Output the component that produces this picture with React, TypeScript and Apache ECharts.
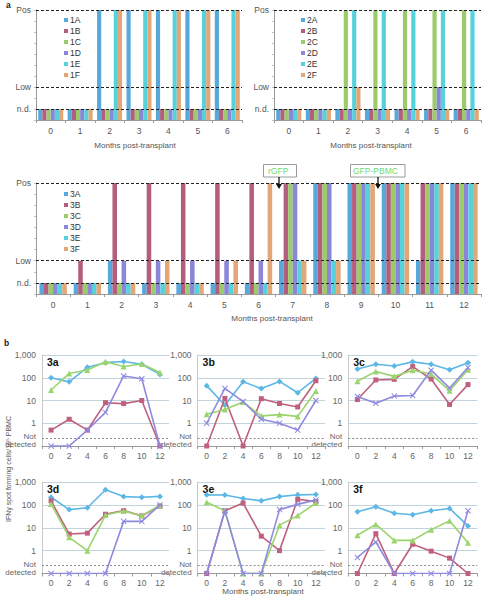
import React, { useEffect, useRef } from 'react';
import * as echarts from 'echarts';

// ---------- DATA ----------
// Bar panels: 1 = n.d., 3 = Low, 10 = Pos
const ND = 1;
const LOW = 3;
const POS = 10;

const monthsShort = ['0', '1', '2', '3', '4', '5', '6'];
const monthsLong = ['0', '1', '2', '3', '4', '5', '6', '7', '8', '9', '10', '11', '12'];

const names1 = ['1A', '1B', '1C', '1D', '1E', '1F'];
const p1A = [ND, ND, POS, POS, POS, POS, POS];
const p1B = [ND, ND, ND, ND, ND, ND, ND];
const p1C = [ND, ND, ND, ND, ND, ND, ND];
const p1D = [ND, ND, ND, ND, ND, ND, ND];
const p1E = [ND, ND, POS, POS, POS, POS, POS];
const p1F = [ND, ND, POS, POS, POS, POS, POS];

const names2 = ['2A', '2B', '2C', '2D', '2E', '2F'];
const p2A = [ND, ND, ND, ND, ND, ND, ND];
const p2B = [ND, ND, ND, ND, ND, ND, ND];
const p2C = [ND, ND, POS, POS, POS, POS, POS];
const p2D = [ND, ND, ND, ND, ND, LOW, ND];
const p2E = [ND, ND, POS, POS, POS, POS, POS];
const p2F = [ND, ND, LOW, ND, ND, ND, ND];

const names3 = ['3A', '3B', '3C', '3D', '3E', '3F'];
const p3A = [ND, ND, LOW, ND, ND, ND, ND, LOW, POS, POS, POS, LOW, POS];
const p3B = [ND, LOW, POS, POS, POS, POS, POS, POS, POS, POS, POS, POS, POS];
const p3C = [ND, ND, ND, ND, ND, ND, ND, POS, POS, POS, POS, POS, POS];
const p3D = [ND, ND, LOW, LOW, LOW, LOW, LOW, POS, POS, POS, POS, POS, POS];
const p3E = [ND, ND, ND, ND, ND, ND, ND, LOW, LOW, POS, POS, POS, POS];
const p3F = [ND, ND, ND, LOW, ND, LOW, POS, LOW, LOW, POS, POS, POS, POS];

const levelLabels: Record<number, string> = { 1: 'n.d.', 3: 'Low', 10: 'Pos' };

// Line panels: IFN-gamma spot forming cells / 10^5 PBMC ; 0.1 = not detected
const NDL = 0.1;
const NOT_DETECTED_LINE = 0.22;
const lineMonths = ['0', '2', '4', '6', '8', '10', '12'];
const panelNames = ['3a', '3b', '3c', '3d', '3e', '3f'];

const l3aBlue = [100, 66, 290, 460, 520, 390, 140];
const l3aPink = [0.5, 1.5, 0.5, 8, 7.3, 10, NDL];
const l3aGreen = [29, 155, 220, 500, 310, 400, 170];
const l3aPurple = [NDL, NDL, 0.5, 3, 120, 90, NDL];

const l3bBlue = [45, 6.2, 66, 34, 69, 22, 93];
const l3bPink = [NDL, 12.4, NDL, 12, 7.4, 5.2, 74];
const l3bGreen = [2.5, 4, 8.5, 2.1, 2.4, 2.0, 26];
const l3bPurple = [1, 34, 9, 1.5, 1.0, 0.5, 10];

const l3cBlue = [240, 390, 330, 500, 390, 225, 460];
const l3cPink = [11, 80, 85, 310, 88, 6.7, 50];
const l3cGreen = [70, 190, 115, 215, 145, 27, 225];
const l3cPurple = [15, 7.6, 15.6, 16.5, 215, 35, 280];

const l3dBlue = [215, 62, 75, 460, 230, 215, 235];
const l3dPink = [150, 5.3, 5.8, 39, 56, 33, 88];
const l3dGreen = [110, 3.8, 1.0, 36, 54, 34, 96];
const l3dPurple = [NDL, NDL, NDL, NDL, 19, 19, 100];

const l3eBlue = [275, 270, 190, 150, 230, 275, 285];
const l3ePink = [NDL, 55, 120, 4.3, 1.0, 175, 140];
const l3eGreen = [130, 55, NDL, NDL, 13, 34, 120];
const l3ePurple = [NDL, 55, NDL, NDL, 62, 105, 165];

const l3fBlue = [50, 82, 43, 37, 55, 70, 12];
const l3fPink = [NDL, 5.5, NDL, 1.9, 0.95, 0.47, NDL];
const l3fGreen = [4.7, 14, 2.8, 2.8, 8.2, 20, 2.2];
const l3fPurple = [0.5, 2.4, NDL, NDL, NDL, NDL, 55];

// ---------- STYLE ----------
const FONT = "'Liberation Sans', Arial, Helvetica, sans-serif";
const barColors = ['#57A8DB', '#B45E7D', '#9CCB6C', '#8A86D8', '#56D2DC', '#E2A677'];
const lineColors = ['#5BB7E6', '#C0607F', '#9BD46D', '#8E8AE0'];
const X_SYMBOL = 'path://M0,1.2L1.2,0L5,3.8L8.8,0L10,1.2L6.2,5L10,8.8L8.8,10L5,6.2L1.2,10L0,8.8L3.8,5Z';
const lineSymbols = ['diamond', 'rect', 'triangle', X_SYMBOL];
const lineSymbolSizes = [6, 5, 6, 6];

export default function App() {
  const ref = useRef<HTMLDivElement>(null);

  useEffect(() => {
    if (!ref.current) return;
    const chart = echarts.init(ref.current, undefined, { renderer: 'svg' });

    const barGrids = [
      { left: 36, top: 10, width: 206, height: 110 },
      { left: 274, top: 10, width: 207, height: 110 },
      { left: 36, top: 183, width: 445, height: 111 },
    ];
    const lineGrids = [
      { left: 42, top: 355, width: 127, height: 91 },
      { left: 197.6, top: 355, width: 127.4, height: 91 },
      { left: 348.2, top: 355, width: 129, height: 91 },
      { left: 42, top: 482, width: 127, height: 91.5 },
      { left: 197.6, top: 482, width: 127.4, height: 91.5 },
      { left: 348.2, top: 482, width: 129, height: 91.5 },
    ];

    const barPanels = [
      { names: names1, data: [p1A, p1B, p1C, p1D, p1E, p1F], cats: monthsShort, gap: '15%' },
      { names: names2, data: [p2A, p2B, p2C, p2D, p2E, p2F], cats: monthsShort, gap: '15%' },
      { names: names3, data: [p3A, p3B, p3C, p3D, p3E, p3F], cats: monthsLong, gap: '20%' },
    ];
    const linePanels = [
      [l3aBlue, l3aPink, l3aGreen, l3aPurple],
      [l3bBlue, l3bPink, l3bGreen, l3bPurple],
      [l3cBlue, l3cPink, l3cGreen, l3cPurple],
      [l3dBlue, l3dPink, l3dGreen, l3dPurple],
      [l3eBlue, l3ePink, l3eGreen, l3ePurple],
      [l3fBlue, l3fPink, l3fGreen, l3fPurple],
    ];

    const grid: any[] = [];
    const xAxis: any[] = [];
    const yAxis: any[] = [];
    const series: any[] = [];
    const legend: any[] = [];
    const graphic: any[] = [];

    barPanels.forEach((p, gi) => {
      grid.push({ ...barGrids[gi], containLabel: false });
      xAxis.push({
        type: 'category',
        gridIndex: gi,
        data: p.cats,
        axisLine: { lineStyle: { color: '#9a9a9a' } },
        axisTick: { show: true, length: 3, lineStyle: { color: '#9a9a9a' } },
        axisLabel: { fontSize: 8.5, color: '#555', margin: 6, fontFamily: FONT },
      });
      yAxis.push({
        type: 'value',
        gridIndex: gi,
        min: 0,
        max: 10,
        interval: 1,
        axisLine: { show: true, lineStyle: { color: '#9a9a9a' } },
        axisTick: { show: true, length: 2, lineStyle: { color: '#c4c4c4' } },
        splitLine: { show: false },
        axisLabel: {
          fontSize: 8.5,
          color: '#555',
          margin: 5,
          fontFamily: FONT,
          formatter: (v: number) => levelLabels[Math.round(v)] || '',
        },
      });
      p.names.forEach((nm, si) => {
        series.push({
          type: 'bar',
          name: nm,
          xAxisIndex: gi,
          yAxisIndex: gi,
          data: p.data[si],
          barGap: '0%',
          barCategoryGap: p.gap,
          itemStyle: { color: barColors[si] },
          markLine:
            si === 0
              ? {
                  silent: true,
                  symbol: 'none',
                  label: { show: false },
                  lineStyle: { type: [3, 2], color: '#222', width: 1 },
                  data: [{ yAxis: ND }, { yAxis: LOW }, { yAxis: POS }],
                  z: 10,
                }
              : undefined,
        });
      });
      legend.push({
        orient: 'vertical',
        left: gi === 1 ? 296 : 59,
        top: gi === 2 ? 184 : 10,
        itemWidth: 4,
        itemHeight: 4,
        itemGap: 1,
        icon: 'rect',
        selectedMode: false,
        data: p.names,
        textStyle: { fontSize: 8.5, lineHeight: 10, color: '#333', fontFamily: FONT, padding: [0, 0, 0, -3] },
      });
    });

    linePanels.forEach((panel, li) => {
      const gi = li + 3;
      const g = lineGrids[li];
      grid.push({ ...g, containLabel: false });
      xAxis.push({
        type: 'category',
        gridIndex: gi,
        data: lineMonths,
        boundaryGap: true,
        axisLine: { lineStyle: { color: '#9a9a9a' } },
        axisTick: { show: true, length: 3, lineStyle: { color: '#9a9a9a' } },
        axisLabel: { fontSize: 8.5, color: '#666', margin: 5, fontFamily: FONT },
      });
      yAxis.push({
        type: 'log',
        logBase: 10,
        gridIndex: gi,
        min: 0.1,
        max: 1000,
        axisLine: { show: true, lineStyle: { color: '#c8c8c8' } },
        axisTick: { show: false },
        splitLine: { show: true, lineStyle: { color: '#C2D3DC', width: 1.2 } },
        axisLabel: {
          fontSize: 8.5,
          color: '#666',
          margin: 6,
          fontFamily: FONT,
          formatter: (v: number) => {
            const r = Math.round(v * 1000) / 1000;
            if (r >= 1000) return '1,000';
            if (r >= 1) return String(Math.round(r));
            return '';
          },
        },
      });
      panel.forEach((d, si) => {
        series.push({
          type: 'line',
          name: panelNames[li] + '-' + si,
          xAxisIndex: gi,
          yAxisIndex: gi,
          data: d,
          symbol: lineSymbols[si],
          symbolSize: lineSymbolSizes[si],
          lineStyle: { color: lineColors[si], width: 1.6 },
          itemStyle: { color: lineColors[si] },
          z: 3 + si,
          markLine:
            si === 0
              ? {
                  silent: true,
                  symbol: 'none',
                  label: { show: false },
                  lineStyle: { type: [2, 2], color: '#8a8a8a', width: 1 },
                  data: [{ yAxis: NOT_DETECTED_LINE }],
                  z: 1,
                }
              : undefined,
        });
      });
      const bottom = g.top + g.height;
      graphic.push(
        { type: 'text', x: g.left - 6, y: bottom - 9.5, style: { text: 'Not', align: 'right', verticalAlign: 'middle', fontSize: 8, fill: '#666', fontFamily: FONT } },
        { type: 'text', x: g.left - 6, y: bottom - 1.5, style: { text: 'detected', align: 'right', verticalAlign: 'middle', fontSize: 8, fill: '#666', fontFamily: FONT } },
        { type: 'text', x: g.left + 5, y: g.top + 7, style: { text: panelNames[li], align: 'left', verticalAlign: 'middle', fontSize: 10.5, fontWeight: 'bold', fill: '#111', fontFamily: FONT } }
      );
    });

    // panel letters, axis titles, annotations
    const titleStyle = { fontSize: 8, fill: '#555', fontFamily: FONT, align: 'center', verticalAlign: 'middle' };
    graphic.push(
      { type: 'text', x: 6, y: 5, style: { text: 'a', fontSize: 8.5, fontWeight: 'bold', fill: '#222', fontFamily: FONT, verticalAlign: 'middle' } },
      { type: 'text', x: 4, y: 343, style: { text: 'b', fontSize: 8.5, fontWeight: 'bold', fill: '#222', fontFamily: FONT, verticalAlign: 'middle' } },
      { type: 'text', x: 135, y: 145, style: { ...titleStyle, text: 'Months post-transplant' } },
      { type: 'text', x: 371, y: 145, style: { ...titleStyle, text: 'Months post-transplant' } },
      { type: 'text', x: 272, y: 318, style: { ...titleStyle, text: 'Months post-transplant' } },
      { type: 'text', x: 263, y: 591, style: { ...titleStyle, text: 'Months post-transplant' } },
      {
        type: 'text',
        x: 8,
        y: 469,
        rotation: Math.PI / 2,
        style: { ...titleStyle, fontSize: 7, text: 'IFNγ spot forming cells/10⁵ PBMC' },
      },
      // rGFP box
      { type: 'rect', shape: { x: 263.5, y: 164.5, width: 33, height: 12.5 }, style: { fill: '#fff', stroke: '#9a9a9a', lineWidth: 1 } },
      { type: 'text', x: 268, y: 171, style: { text: 'rGFP', fontSize: 8.5, fill: '#6EDB6E', fontFamily: FONT, verticalAlign: 'middle' } },
      { type: 'line', shape: { x1: 279, y1: 177, x2: 279, y2: 185 }, style: { stroke: '#111', lineWidth: 1.3 } },
      { type: 'polygon', shape: { points: [[276, 184], [282, 184], [279, 189]] }, style: { fill: '#111' } },
      // GFP-PBMC box
      { type: 'rect', shape: { x: 350.5, y: 164.5, width: 54.5, height: 12.5 }, style: { fill: '#fff', stroke: '#9a9a9a', lineWidth: 1 } },
      { type: 'text', x: 353, y: 171, style: { text: 'GFP-PBMC', fontSize: 8.5, fill: '#6EDB6E', fontFamily: FONT, verticalAlign: 'middle' } },
      { type: 'line', shape: { x1: 378, y1: 177, x2: 378, y2: 185 }, style: { stroke: '#111', lineWidth: 1.3 } },
      { type: 'polygon', shape: { points: [[375, 184], [381, 184], [378, 189]] }, style: { fill: '#111' } }
    );

    chart.setOption({
      animation: false,
      backgroundColor: '#ffffff',
      textStyle: { fontFamily: FONT },
      grid,
      xAxis,
      yAxis,
      series,
      legend,
      graphic,
    });

    return () => chart.dispose();
  }, []);

  return (
    <div
      ref={ref}
      style={{ position: 'fixed', left: 0, top: 0, width: 485, height: 596, background: '#fff' }}
    />
  );
}
